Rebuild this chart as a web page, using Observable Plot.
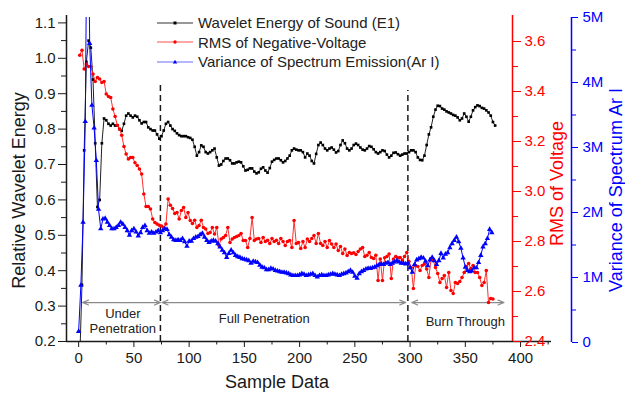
<!DOCTYPE html>
<html><head><meta charset="utf-8">
<script src="https://cdn.jsdelivr.net/npm/d3@7"></script>
<script src="https://cdn.jsdelivr.net/npm/@observablehq/plot@0.6"></script>
<style>
body{margin:0;background:#fff;font-family:"Liberation Sans",Arial,sans-serif;}
#chart{position:relative;width:625px;height:393px;overflow:hidden;background:#fff;}
#chart svg{position:absolute;left:0;top:0;}
#legend{position:absolute;left:157px;top:13px;font-size:15px;color:#222;line-height:19.5px;}
#legend .row{display:flex;align-items:center;height:19.5px;white-space:nowrap;}
#legend svg{position:static;margin-right:5px;}
</style></head><body>
<div id="chart"><div id="legend"></div></div>
<script>
// ---------- data ----------
const sampleTicks = [0, 50, 100, 150, 200, 250, 300, 350, 400];
const sampleMinorTicks = [25, 75, 125, 175, 225, 275, 325, 375, 425];
const energyTicks = [0.2, 0.3, 0.4, 0.5, 0.6, 0.7, 0.8, 0.9, 1.0, 1.1];
const energyMinorTicks = [0.25, 0.35, 0.45, 0.55, 0.65, 0.75, 0.85, 0.95, 1.05];
const voltageTicks = [2.4, 2.6, 2.8, 3.0, 3.2, 3.4, 3.6];
const voltageMinorTicks = [2.5, 2.7, 2.9, 3.1, 3.3, 3.5];
const varianceTicks = [0, 1, 2, 3, 4, 5];            // millions
const varianceMinorTicks = [0.5, 1.5, 2.5, 3.5, 4.5];

const sampleStep = 2;
const energyStart = 1;   // Wavelet Energy of Sound (E1)
const energy = [0.15,0.36,0.74,0.99,1.05,1.03,0.94,0.76,0.58,0.60,
0.76,0.83,0.825,0.815,0.81,0.815,0.81,0.81,0.80,0.795,
0.815,0.838,0.844,0.838,0.833,0.838,0.835,0.825,0.816,0.82,
0.82,0.805,0.80,0.796,0.796,0.785,0.773,0.78,0.796,0.815,
0.82,0.81,0.80,0.795,0.788,0.783,0.78,0.78,0.78,0.777,
0.775,0.77,0.75,0.725,0.735,0.754,0.75,0.735,0.731,0.735,
0.74,0.745,0.72,0.697,0.70,0.71,0.717,0.717,0.712,0.703,
0.703,0.706,0.708,0.706,0.695,0.683,0.685,0.689,0.689,0.68,
0.675,0.678,0.688,0.692,0.683,0.677,0.69,0.708,0.713,0.717,
0.717,0.712,0.706,0.71,0.717,0.725,0.74,0.745,0.742,0.74,
0.74,0.735,0.72,0.731,0.725,0.71,0.703,0.73,0.755,0.762,
0.755,0.745,0.74,0.745,0.748,0.742,0.734,0.738,0.755,0.768,
0.76,0.745,0.74,0.745,0.755,0.759,0.755,0.748,0.742,0.74,
0.745,0.752,0.75,0.743,0.735,0.731,0.735,0.74,0.738,0.728,
0.72,0.725,0.733,0.734,0.729,0.725,0.728,0.731,0.731,0.735,
0.74,0.74,0.735,0.72,0.713,0.712,0.725,0.755,0.785,0.805,
0.835,0.855,0.866,0.865,0.858,0.855,0.85,0.847,0.844,0.84,
0.838,0.833,0.825,0.83,0.844,0.835,0.821,0.835,0.853,0.862,
0.867,0.865,0.86,0.858,0.853,0.847,0.838,0.82,0.81];

const voltageStart = 1;  // RMS of Negative-Voltage
const voltage = [3.545,3.565,3.49,3.51,3.50,3.50,3.47,3.44,3.456,3.45,
3.436,3.44,3.39,3.38,3.376,3.33,3.30,3.265,3.25,3.225,
3.18,3.15,3.13,3.136,3.136,3.115,3.104,3.09,3.07,2.99,
2.94,2.94,2.93,2.89,2.876,2.87,2.865,2.862,2.856,2.87,
2.97,2.945,2.932,2.912,2.916,2.89,2.924,2.936,2.896,2.916,
2.884,2.872,2.885,2.856,2.864,2.885,2.856,2.85,2.832,2.836,
2.856,2.83,2.856,2.784,2.81,2.816,2.824,2.856,2.796,2.81,
2.816,2.82,2.824,2.832,2.804,2.804,2.776,2.812,2.896,2.804,
2.81,2.812,2.796,2.816,2.80,2.805,2.792,2.812,2.80,2.805,
2.792,2.812,2.80,2.784,2.80,2.804,2.776,2.884,2.792,2.796,
2.772,2.80,2.776,2.81,2.80,2.812,2.824,2.792,2.832,2.792,
2.784,2.80,2.776,2.804,2.79,2.776,2.79,2.764,2.78,2.752,
2.77,2.744,2.756,2.752,2.755,2.748,2.76,2.77,2.776,2.74,
2.745,2.756,2.736,2.732,2.745,2.644,2.73,2.644,2.735,2.74,
2.75,2.652,2.73,2.74,2.735,2.736,2.726,2.74,2.756,2.72,
2.696,2.612,2.704,2.70,2.684,2.704,2.71,2.69,2.656,2.732,
2.724,2.696,2.672,2.636,2.652,2.664,2.616,2.676,2.604,2.592,
2.636,2.632,2.64,2.656,2.676,2.70,2.712,2.692,2.704,2.676,
2.676,2.656,2.624,2.636,2.684,2.556,2.572,2.57];

const varianceStart = 0; // Variance of Spectrum Emission (Ar I), millions
const variance = [0.17,0.88,1.85,3.4,7.5,4.6,3.65,3.3,2.8,2.05,
1.75,1.9,1.91,1.85,1.8,1.75,1.75,1.77,1.8,1.85,
1.82,1.77,1.72,1.65,1.72,1.75,1.7,1.64,1.69,1.77,
1.8,1.72,1.68,1.7,1.68,1.7,1.72,1.69,1.72,1.75,
1.74,1.66,1.62,1.58,1.57,1.58,1.57,1.6,1.55,1.48,
1.56,1.56,1.6,1.62,1.63,1.66,1.68,1.62,1.57,1.54,
1.56,1.57,1.56,1.52,1.47,1.42,1.38,1.31,1.37,1.42,
1.38,1.34,1.32,1.31,1.29,1.28,1.27,1.26,1.22,1.25,
1.24,1.23,1.19,1.16,1.15,1.12,1.12,1.14,1.13,1.11,
1.1,1.09,1.08,1.08,1.07,1.06,1.04,1.03,1.03,1.03,
1.04,1.06,1.05,1.03,1.04,1.05,1.06,1.03,1.01,1.03,
1.04,1.03,1.03,1.04,1.05,1.06,1.05,1.04,1.03,1.05,
1.06,1.07,1.09,1.11,1.08,1.02,0.99,1.06,1.09,1.11,
1.13,1.14,1.14,1.15,1.16,1.18,1.2,1.21,1.2,1.22,
1.23,1.2,1.22,1.24,1.26,1.24,1.22,1.22,1.21,1.22,
1.15,1.08,1.2,1.27,1.29,1.31,1.3,1.25,1.18,1.27,
1.31,1.26,1.2,1.26,1.37,1.3,1.36,1.38,1.46,1.52,
1.57,1.62,1.55,1.45,1.3,1.16,1.11,1.09,1.1,1.15,
1.15,1.23,1.34,1.47,1.52,1.6,1.74,1.69];

const legendNames = ["Wavelet Energy of Sound (E1)", "RMS of Negative-Voltage", "Variance of Spectrum Emission(Ar I)"];
const regionNames = ["Under\nPenetration", "Full Penetration", "Burn Through"];
const regionStart = [3.5, 75.5, 301.5];
const regionEnd = [74, 296, 385];
const dividerSamples = [74, 298];
const dividerTops = [0.923, 0.909];

// ---------- layout ----------
const W = 625, H = 393;
const frameTop = 15, frameBottom = 341, frameLeft = 66, frameRight = 551;
const xMin = -11, xMax = 428;
const pxPerSample = (frameRight - frameLeft) / (xMax - xMin);
const xAtPixel = px => xMin + (px - frameLeft) / pxPerSample;
const redAxisPx = 512, blueAxisPx = 571;
const energyDomain = [0.2, 0.2 + (frameBottom - frameTop) / 354];
const voltageDomain = [2.4, 2.4 + (frameBottom - frameTop) / 250];
const arrowLevel = 0.31;
const regionLabelX = [40, 168, 350];
const regionLabelY = [0.258, 0.265, 0.256];
const font = "'Liberation Sans', Arial, sans-serif";
const RED = "#ff0000", BLUE = "#0000ff", INK = "#1a1a1a", GRAY = "#8a8a8a";

const series = (start, values) => values.map((v, i) => ({sample: start + i * sampleStep, value: v}));
const energyData = series(energyStart, energy);
const voltageData = series(voltageStart, voltage);
const varianceData = series(varianceStart, variance);
const regions = regionNames.map((name, i) => ({
  name, start: regionStart[i], end: regionEnd[i], mid: (regionStart[i] + regionEnd[i]) / 2,
  lx: regionLabelX[i], ly: regionLabelY[i]
}));
const dividers = dividerSamples.map((s, i) => ({s, top: dividerTops[i]}));

const baseStyle = c => ({fontFamily: font, fontSize: "15px", background: "transparent", color: c, overflow: "visible"});
const title = (txt, o) => Plot.text([txt], {text: d => d, textAnchor: "middle", lineAnchor: "middle", fontSize: 18, ...o});

// Layer 1: wavelet energy (left axis, x axis, annotations)
const plotA = Plot.plot({
  width: W, height: H,
  marginLeft: frameLeft, marginRight: W - frameRight, marginTop: frameTop, marginBottom: H - frameBottom,
  style: baseStyle(INK),
  x: {domain: [xMin, xMax]},
  y: {domain: energyDomain},
  marks: [
    Plot.ruleX(dividers, {x: "s", y1: energyDomain[0], y2: "top", stroke: INK, strokeWidth: 1.5, strokeDasharray: "6,4"}),
    Plot.arrow(regions, {x1: "mid", x2: "start", y1: arrowLevel, y2: arrowLevel, stroke: GRAY, strokeWidth: 1.2, headLength: 8, headAngle: 45}),
    Plot.arrow(regions, {x1: "mid", x2: "end", y1: arrowLevel, y2: arrowLevel, stroke: GRAY, strokeWidth: 1.2, headLength: 8, headAngle: 45}),
    Plot.text(regions, {x: "lx", y: "ly", text: "name", fontSize: 13, lineHeight: 1.15, fill: "#222"}),
    Plot.line(energyData, {x: "sample", y: "value", stroke: "#222", strokeWidth: 1, clip: true}),
    Plot.dot(energyData, {x: "sample", y: "value", symbol: "square", r: 1.5, fill: "#000", clip: true}),
    Plot.axisX(sampleTicks, {tickSize: 6, tickPadding: 5, label: null}),
    Plot.axisX(sampleMinorTicks, {tickSize: 3.5, fill: "none", label: null}),
    Plot.axisY(energyTicks, {tickSize: 8, tickPadding: 3, tickFormat: d => d.toFixed(1), label: null}),
    Plot.axisY(energyMinorTicks, {tickSize: 5, fill: "none", label: null}),
    Plot.ruleX([xMin], {stroke: INK, strokeWidth: 1.5}),
    Plot.ruleY([energyDomain[0]], {stroke: INK, strokeWidth: 1.5}),
    title("Relative Wavelet Energy", {frameAnchor: "left", rotate: -90, dx: -47, dy: 12, fill: INK}),
    title("Sample Data", {frameAnchor: "bottom", dx: -32, dy: 41, fill: INK})
  ]
});

// Layer 2: RMS voltage (red axis)
const plotB = Plot.plot({
  width: W, height: H,
  marginLeft: frameLeft, marginRight: W - redAxisPx, marginTop: frameTop, marginBottom: H - frameBottom,
  style: baseStyle(RED),
  x: {domain: [xMin, xAtPixel(redAxisPx)], axis: null},
  y: {domain: voltageDomain},
  marks: [
    Plot.line(voltageData, {x: "sample", y: "value", stroke: "#ff3030", strokeWidth: 1}),
    Plot.dot(voltageData, {x: "sample", y: "value", r: 1.8, fill: RED}),
    Plot.axisY(voltageTicks, {anchor: "right", tickSize: 8, tickPadding: 4, tickFormat: d => d.toFixed(1), label: null}),
    Plot.axisY(voltageMinorTicks, {anchor: "right", tickSize: 5, fill: "none", label: null}),
    Plot.ruleX([xAtPixel(redAxisPx)], {stroke: RED, strokeWidth: 1.5}),
    title("RMS of Voltage", {frameAnchor: "right", rotate: -90, dx: 45, dy: 5, fill: RED})
  ]
});

// Layer 3: variance of spectrum (blue axis)
const plotC = Plot.plot({
  width: W, height: H,
  marginLeft: frameLeft, marginRight: W - blueAxisPx, marginTop: 17, marginBottom: H - 342,
  style: baseStyle(BLUE),
  x: {domain: [xMin, xAtPixel(blueAxisPx)], axis: null},
  y: {domain: [0, 5]},
  marks: [
    Plot.line(varianceData, {x: "sample", y: "value", stroke: BLUE, strokeWidth: 1, clip: true}),
    Plot.dot(varianceData, {x: "sample", y: "value", symbol: "triangle", r: 2, fill: BLUE, clip: true}),
    Plot.axisY(varianceTicks, {anchor: "right", tickSize: 6, tickPadding: 5, tickFormat: d => d === 0 ? "0" : d + "M", label: null}),
    Plot.axisY(varianceMinorTicks, {anchor: "right", tickSize: 4, fill: "none", label: null}),
    Plot.ruleX([xAtPixel(blueAxisPx)], {stroke: BLUE, strokeWidth: 1.5}),
    title("Variance of Spectrum Ar I", {frameAnchor: "right", rotate: -90, dx: 45, dy: 10, fill: BLUE})
  ]
});

const chart = document.getElementById("chart");
const legend = document.getElementById("legend");
chart.insertBefore(plotC, legend);
chart.insertBefore(plotB, plotC);
chart.insertBefore(plotA, plotB);

// legend
const legendStyles = [
  {line: "#333", fill: "#000", shape: "square"},
  {line: "#ff5050", fill: RED, shape: "circle"},
  {line: "#6f6fff", fill: BLUE, shape: "triangle"}
];
legendNames.forEach((name, i) => {
  const st = legendStyles[i];
  const row = document.createElement("div");
  row.className = "row";
  let marker = "";
  if (st.shape === "square") marker = `<rect x="16.5" y="4.5" width="3" height="3" fill="${st.fill}"/>`;
  else if (st.shape === "circle") marker = `<circle cx="18" cy="6" r="1.7" fill="${st.fill}"/>`;
  else marker = `<polygon points="18,3.8 20.2,7.6 15.8,7.6" fill="${st.fill}"/>`;
  row.innerHTML = `<svg width="36" height="12"><line x1="0" y1="6" x2="36" y2="6" stroke="${st.line}" stroke-width="1.2"/>${marker}</svg><span>${name}</span>`;
  legend.appendChild(row);
});
</script>
</body></html>
